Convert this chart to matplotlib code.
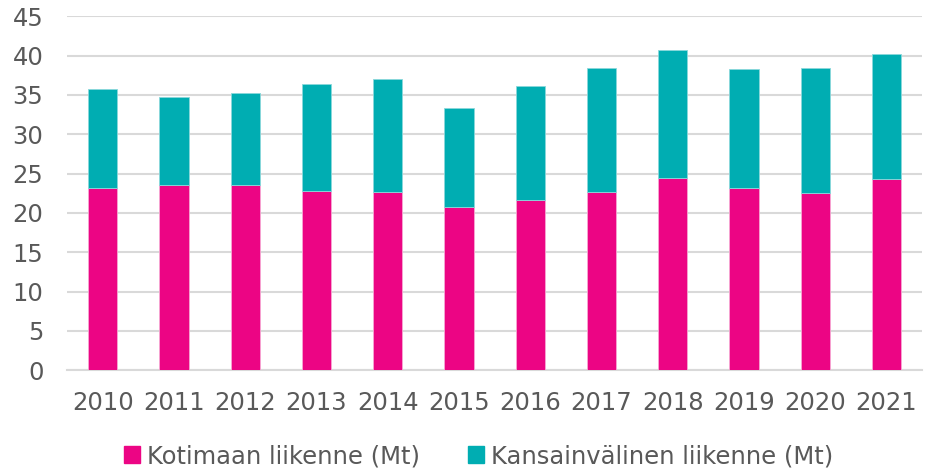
import numpy as np
import matplotlib
matplotlib.use("Agg")
from matplotlib import pyplot as plt
from matplotlib.patches import Patch

years = ["2010", "2011", "2012", "2013", "2014", "2015",
         "2016", "2017", "2018", "2019", "2020", "2021"]
kotimaan = [23.2, 23.5, 23.5, 22.8, 22.7, 20.7, 21.6, 22.6, 24.4, 23.2, 22.5, 24.3]
kansainvalinen = [12.5, 11.3, 11.8, 13.6, 14.3, 12.7, 14.5, 15.8, 16.3, 15.1, 15.9, 15.9]

yticks = np.arange(0, 46, 5)

MAGENTA = "#EC0584"
TEAL = "#00ADB2"
GREY_TXT = "#595959"

plt.rcParams["font.family"] = ["DejaVu Sans"]

fig = plt.figure(figsize=(9.26, 4.72), dpi=100)
ax = fig.add_axes([0.0724, 0.2155, 0.9233, 0.75])

x = np.arange(len(years))
ax.bar(x, kotimaan, width=0.41, color=MAGENTA, edgecolor="#f7a8d3", linewidth=0.6,
       label="Kotimaan liikenne (Mt)", zorder=3)
ax.bar(x, kansainvalinen, width=0.41, bottom=kotimaan, color=TEAL, edgecolor="#8ad8db",
       linewidth=0.6, label="Kansainvälinen liikenne (Mt)", zorder=3)

ax.set_xlim(-0.5, len(years) - 0.5)
ax.set_ylim(0, 45)
ax.set_yticks(yticks)
ax.set_xticks(x)
ax.set_xticklabels(years)
ax.yaxis.grid(True, color="#d9d9d9", linewidth=1.5, zorder=0)
ax.set_axisbelow(True)

for s in ["top", "right", "left"]:
    ax.spines[s].set_visible(False)
ax.spines["bottom"].set_color("#d9d9d9")
ax.spines["bottom"].set_linewidth(1.5)

ax.tick_params(axis="both", length=0, labelsize=17.5, colors=GREY_TXT)
ax.tick_params(axis="y", pad=17)
ax.tick_params(axis="x", pad=15)

handles = [Patch(color=MAGENTA, label="Kotimaan liikenne (Mt)"),
           Patch(color=TEAL, label="Kansainvälinen liikenne (Mt)")]
leg = fig.legend(handles=handles, loc="lower center", bbox_to_anchor=(0.517, -0.038), ncol=2,
                 frameon=False, fontsize=17.5, handlelength=0.65, handleheight=0.65,
                 handletextpad=0.3, columnspacing=1.95)
for t in leg.get_texts():
    t.set_color(GREY_TXT)

fig.savefig("out.png", dpi=100)
